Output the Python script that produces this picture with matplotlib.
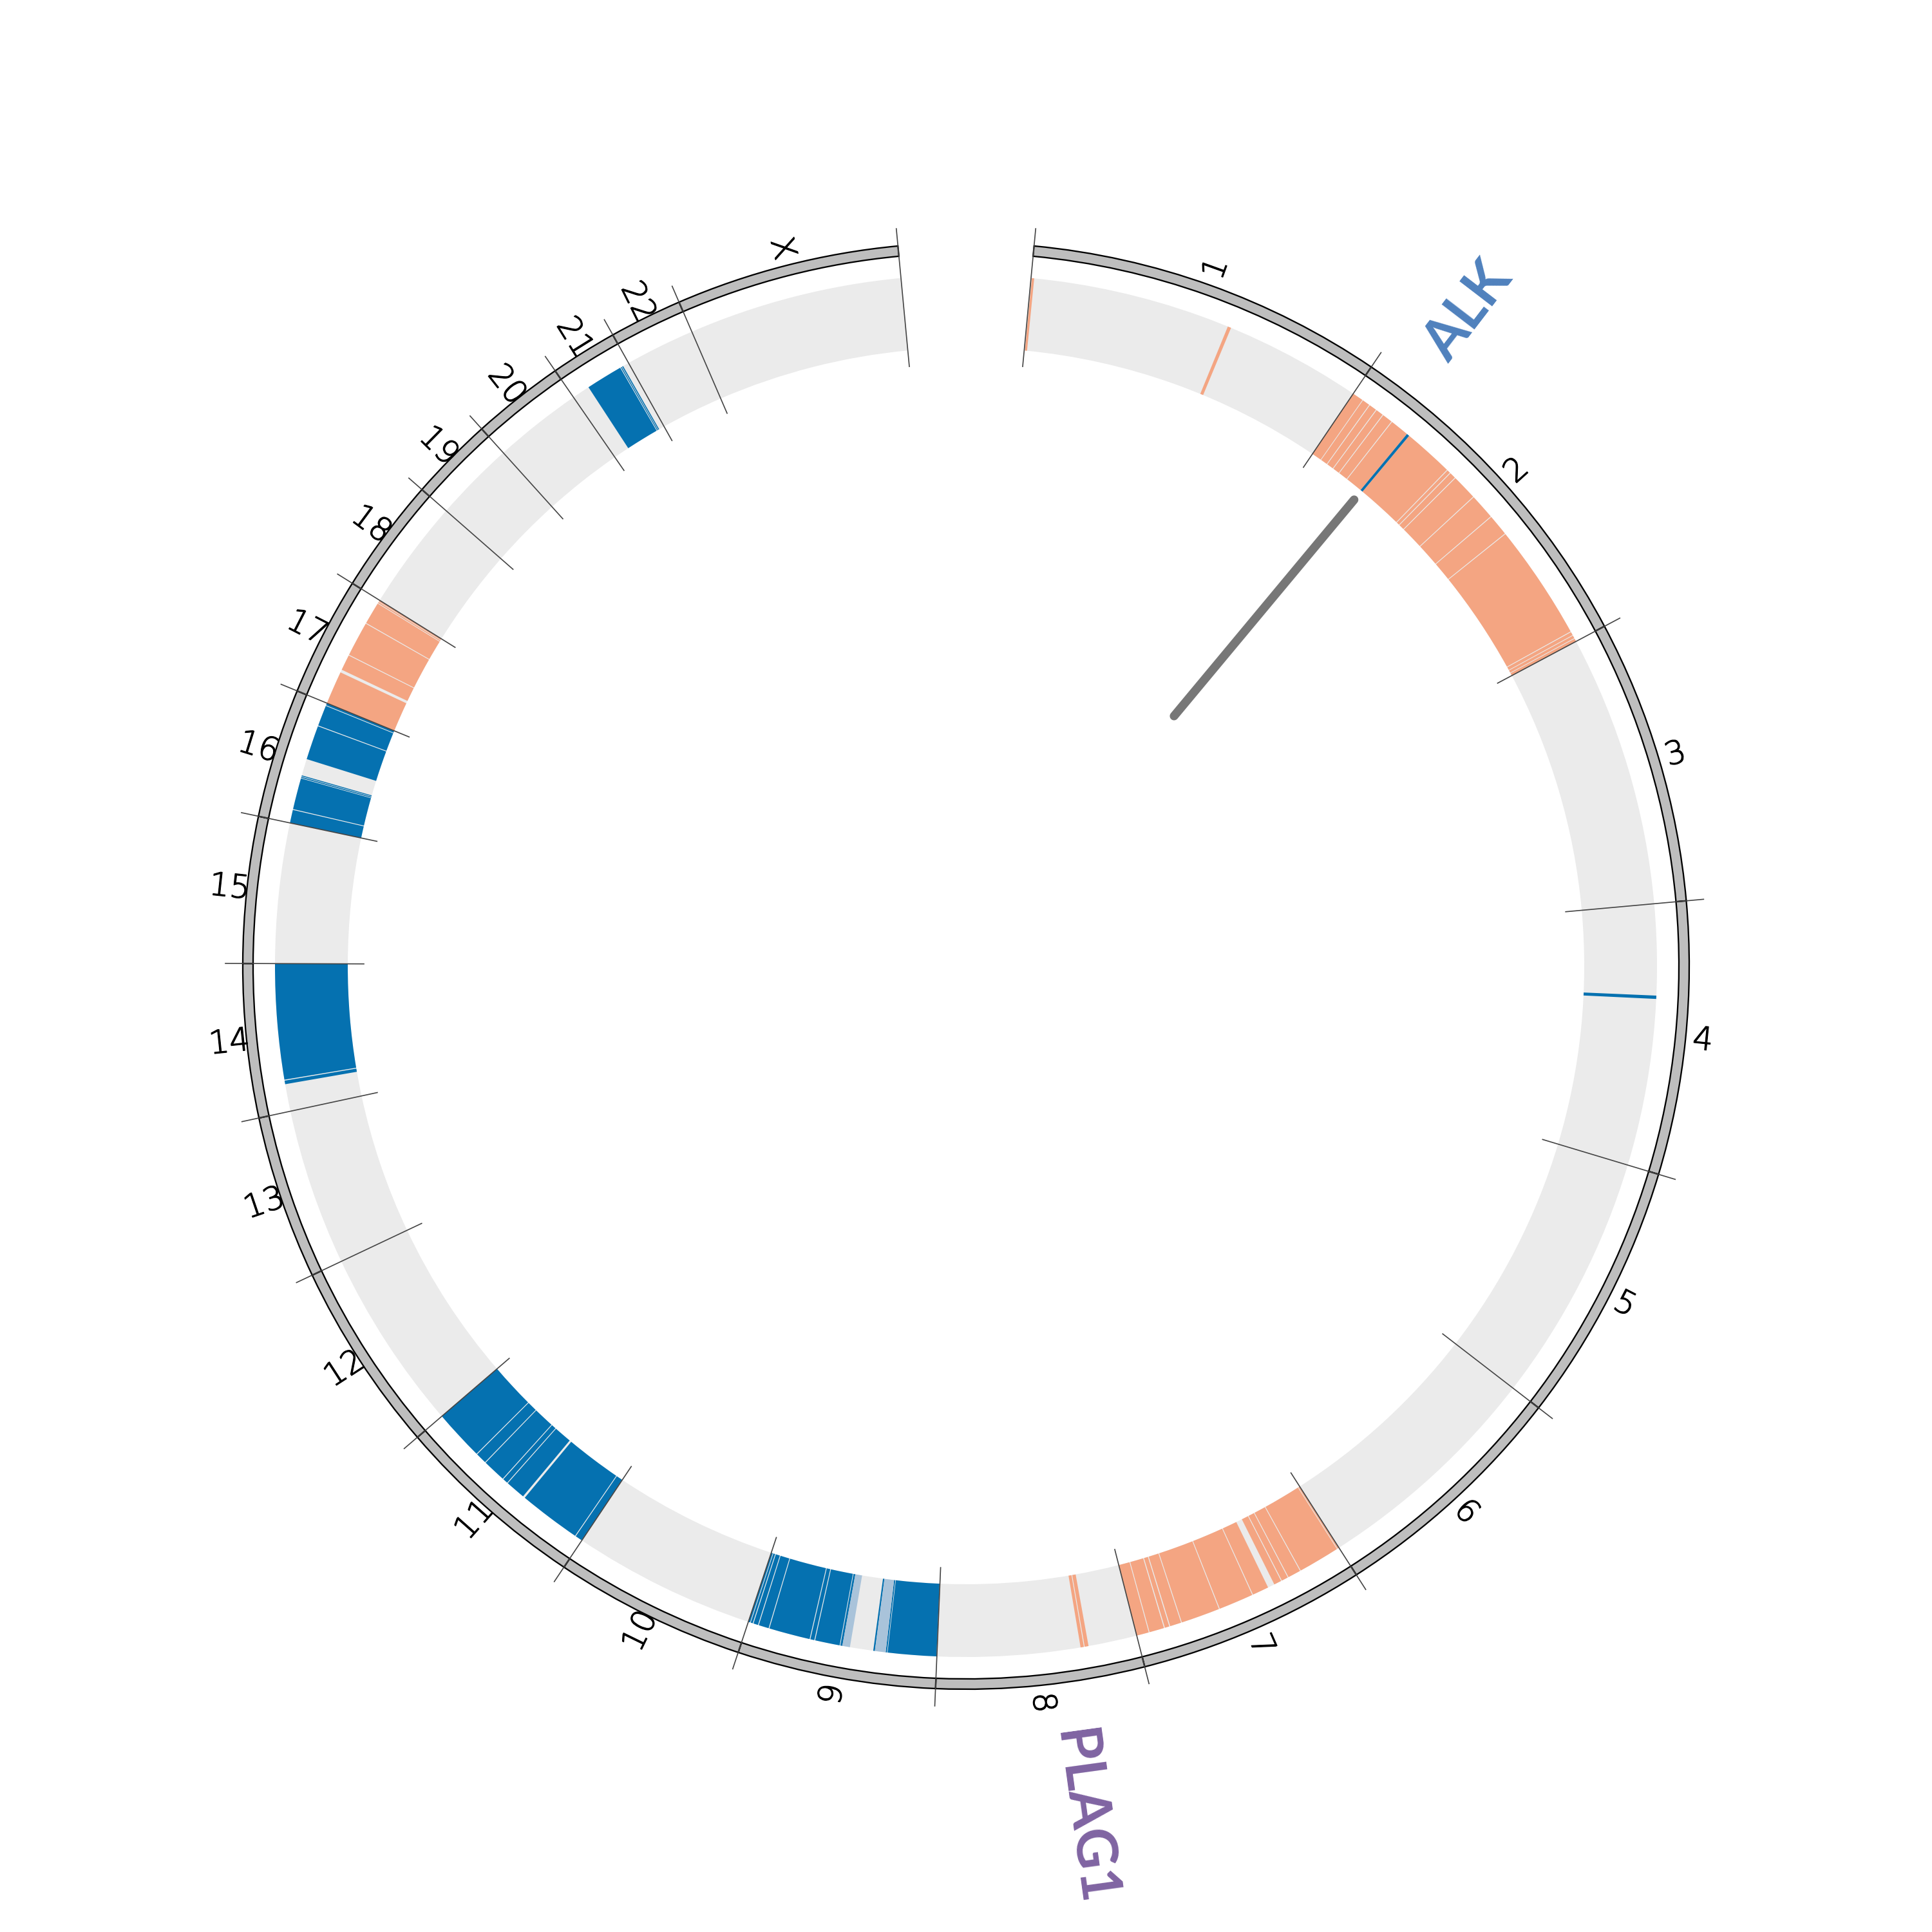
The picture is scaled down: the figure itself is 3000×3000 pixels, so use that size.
import matplotlib
matplotlib.use("Agg")
import matplotlib.pyplot as plt
from matplotlib.patches import Wedge
import matplotlib.patheffects as pe
import numpy as np

# ---------------- data ----------------
chrom_names = [str(i) for i in range(1, 23)] + ["X"]
chrom_sizes_mb = [248.96, 242.19, 198.30, 190.21, 181.54, 170.81, 159.35, 145.14,
                  138.39, 133.80, 135.09, 133.28, 114.36, 107.04, 101.99, 90.34,
                  83.26, 80.37, 58.62, 64.44, 46.71, 50.82, 156.04]

gain_segments = [
    ("1", 0.6, 2.3), ("1", 146.4, 148.9),
    ("2", 0.1, 8.0), ("2", 8.5, 14.0), ("2", 14.6, 20.0), ("2", 20.6, 26.0),
    ("2", 26.6, 34.0), ("2", 34.6, 48.4), ("2", 50.4, 87.0), ("2", 87.6, 90.0),
    ("2", 90.6, 95.0), ("2", 95.6, 114.0), ("2", 114.6, 133.0), ("2", 133.6, 149.0),
    ("2", 149.6, 234.0), ("2", 234.6, 237.0), ("2", 237.5, 239.5), ("2", 240.0, 242.1),
    ("7", 0.3, 1.2), ("7", 1.7, 32.0), ("7", 32.6, 42.0), ("7", 42.6, 47.4),
    ("7", 48.0, 53.5), ("7", 58.5, 70.5), ("7", 71.1, 96.5), ("7", 97.1, 125.5),
    ("7", 126.1, 134.3), ("7", 135.0, 138.3), ("7", 139.0, 149.8), ("7", 150.4, 159.2),
    ("8", 35.5, 38.3), ("8", 38.9, 41.3),
    ("17", 0.2, 24.2), ("17", 26.3, 37.7), ("17", 38.3, 63.7), ("17", 64.3, 80.5),
    ("17", 81.0, 81.8), ("17", 82.2, 83.2),
]

loss_segments = [
    ("2", 48.4, 50.4),
    ("4", 66.2, 68.6),
    ("9", 0.3, 35.6), ("9", 36.0, 37.0), ("9", 44.8, 46.0), ("9", 68.5, 70.0),
    ("9", 70.5, 88.5), ("9", 89.1, 92.0), ("9", 92.6, 122.5), ("9", 123.1, 130.5),
    ("9", 131.1, 134.5), ("9", 135.1, 136.6), ("9", 137.1, 138.3),
    ("11", 0.2, 5.3), ("11", 5.9, 51.3), ("11", 52.9, 67.4), ("11", 68.0, 71.7),
    ("11", 72.3, 89.1), ("11", 89.7, 97.7), ("11", 98.3, 135.0),
    ("14", 19.8, 22.4), ("14", 23.1, 107.0),
    ("16", 0.1, 9.6), ("16", 10.2, 33.0), ("16", 33.4, 34.2), ("16", 34.6, 35.3),
    ("16", 47.5, 72.5), ("16", 73.1, 88.2), ("16", 88.7, 90.2),
    ("21", 13.0, 39.8), ("21", 40.3, 41.0), ("21", 41.4, 42.2),
]

faint_loss_segments = [("9", 37.0, 44.8), ("9", 63.0, 68.5)]

marker_chrom = "2"
marker_pos_mb = 49.4

gene_names = ["ALK", "PLAG1"]
gene_chroms = ["2", "8"]
gene_pos_mb = [29.4, 56.1]
gene_colors = ["#4f81bd", "#8064a2"]

# ---------------- layout ----------------
START_DEG = 5.4            # clockwise from top
SPAN_DEG = 360 * 0.97
total = sum(chrom_sizes_mb)
deg_per_mb = SPAN_DEG / total
offsets = {}
acc = 0.0
for n, s in zip(chrom_names, chrom_sizes_mb):
    offsets[n] = acc
    acc += s


def theta(chrom, mb):
    return START_DEG + (offsets[chrom] + mb) * deg_per_mb


def xy(th, r):
    phi = np.deg2rad(90 - th)
    return r * np.cos(phi), r * np.sin(phi)


R_RING_OUT, R_RING_W = 1123, 16
R_TRACK_OUT, R_TRACK_W = 1073, 113
C_TRACK = "#ebebeb"
C_GAIN = "#f4a582"
C_LOSS = "#0571b0"
C_FAINT = "#a9c3da"

fig = plt.figure(figsize=(10, 10), dpi=300)
ax = fig.add_axes([0, 0, 1, 1])
ax.set_xlim(-1500, 1500)
ax.set_ylim(-1500, 1500)
ax.set_aspect("equal")
ax.axis("off")


def arc(chrom, a, b, r, w, **kw):
    t1, t2 = theta(chrom, a), theta(chrom, b)
    ax.add_patch(Wedge((0, 0), r, 90 - t2, 90 - t1, width=w, **kw))


for n, s in zip(chrom_names, chrom_sizes_mb):
    arc(n, 0, s, R_TRACK_OUT, R_TRACK_W, facecolor=C_TRACK, edgecolor="none", zorder=1)

for c, a, b in gain_segments:
    arc(c, a, b, R_TRACK_OUT, R_TRACK_W, facecolor=C_GAIN, edgecolor="none", zorder=2)
for c, a, b in loss_segments:
    arc(c, a, b, R_TRACK_OUT, R_TRACK_W, facecolor=C_LOSS, edgecolor="none", zorder=2)
for c, a, b in faint_loss_segments:
    arc(c, a, b, R_TRACK_OUT, R_TRACK_W, facecolor=C_FAINT, edgecolor="none", zorder=2)

for n, s in zip(chrom_names, chrom_sizes_mb):
    arc(n, 0, s, R_RING_OUT, R_RING_W, facecolor="#bebebe", edgecolor="black",
        linewidth=0.55, zorder=3)

# chromosome boundary lines
bounds = [theta(n, 0) for n in chrom_names] + [theta("X", chrom_sizes_mb[-1])]
for th in bounds:
    x0, y0 = xy(th, 935)
    x1, y1 = xy(th, 1150)
    ax.plot([x0, x1], [y0, y1], color="#444444", lw=0.4, zorder=4)

# chromosome labels
for n, s in zip(chrom_names, chrom_sizes_mb):
    th = theta(n, s / 2)
    rot = 90 - th if th < 180 else 270 - th
    x, y = xy(th, 1150)
    ax.text(x, y, n, rotation=rot, rotation_mode="anchor", ha="center", va="center",
            fontsize=12, family="DejaVu Sans", fontweight="light", color="black", zorder=5,
            path_effects=[pe.withStroke(linewidth=0.3, foreground="black")])

# breakpoint marker
th = theta(marker_chrom, marker_pos_mb)
x0, y0 = xy(th, 505)
x1, y1 = xy(th, 942)
ax.plot([x0, x1], [y0, y1], color="#777777", lw=3.2, solid_capstyle="round", zorder=4)

# gene labels
for g, c, p, col in zip(gene_names, gene_chroms, gene_pos_mb, gene_colors):
    th = theta(c, p)
    x, y = xy(th, 1198)
    ax.text(x, y, g, rotation=90 - th, rotation_mode="anchor", ha="left", va="center",
            fontsize=21, family="Lato", fontweight="bold", color=col, zorder=5)

fig.savefig("out.png", dpi=300)
